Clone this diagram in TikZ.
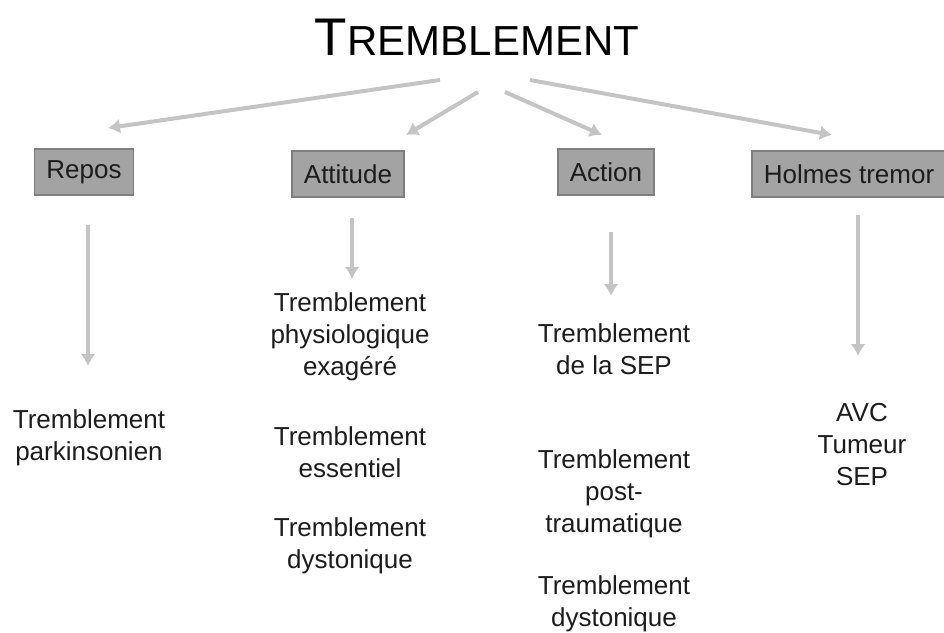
\documentclass[tikz,border=0pt]{standalone}
\usepackage{fontspec}
\setmainfont{Liberation Sans}
\usepackage{tikz}
\usetikzlibrary{arrows.meta}

\definecolor{boxfill}{HTML}{A3A3A3}
\definecolor{boxline}{HTML}{7E7E7E}
\definecolor{arrowgray}{HTML}{C4C4C4}
\definecolor{txt}{HTML}{1C1C1C}

\begin{document}
\begin{tikzpicture}[x=1pt,y=-1pt,
    cat/.style={draw=boxline, line width=1.5, fill=boxfill, inner xsep=12pt, minimum height=46pt, font=\fontsize{26}{31}\selectfont, text=txt},
    item/.style={align=center, font=\fontsize{26}{32}\selectfont, text=txt},
    fleche/.style={-{Latex[length=12pt,width=15pt]}, draw=arrowgray, line width=4}]
    \useasboundingbox (0,0) rectangle (944,632);
           % titre
           \node[text=black, inner sep=0pt, anchor=base](titre)  at (477,55) {\fontsize{53}{60}\selectfont T\fontsize{42}{50}\selectfont REMBLEMENT};
           \coordinate (t1) at (440,80);
           \coordinate (t2) at (478,92);
           \coordinate (t3) at (505,92);
           \coordinate (t4) at (530,80);
           % categories
           \node[cat](repos)  at (84,172) {Repos};
           \node[cat](attitude)  at (348,174) {Attitude};
           \node[cat](action)  at (606,172) {Action};
           \node[cat](holmes)  at (849,174) {Holmes tremor};
           \coordinate (r1) at (108,128);
           \coordinate (a1) at (406,135);
           \coordinate (c1) at (602,135);
           \coordinate (h1) at (832,135);
      \draw[fleche] (t1) -- (r1);
      \draw[fleche] (t2) -- (a1);
      \draw[fleche] (t3) -- (c1);
      \draw[fleche] (t4) -- (h1);
           % listes
           \node[item](parkinson)  at (89,438) {Tremblement\\parkinsonien};
           \node[item](physio)  at (350,337) {Tremblement\\physiologique\\exagéré};
           \node[item](essentiel)  at (350,452) {Tremblement\\essentiel};
           \node[item](dysto)  at (350,546) {Tremblement\\dystonique};
           \node[item](sep)  at (614,349) {Tremblement\\de la SEP};
           \node[item](posttrauma)  at (614,494) {Tremblement\\post-\\traumatique};
           \node[item](dysto2)  at (614,604) {Tremblement\\dystonique};
           \node[item](avc)  at (862,445) {AVC\\Tumeur\\SEP};
      \draw[fleche] (88,225) -- (88,366);
      \draw[fleche] (352,218) -- (352,279);
      \draw[fleche] (611,232) -- (611,296);
      \draw[fleche] (858,215) -- (858,356);
\end{tikzpicture}
\end{document}
